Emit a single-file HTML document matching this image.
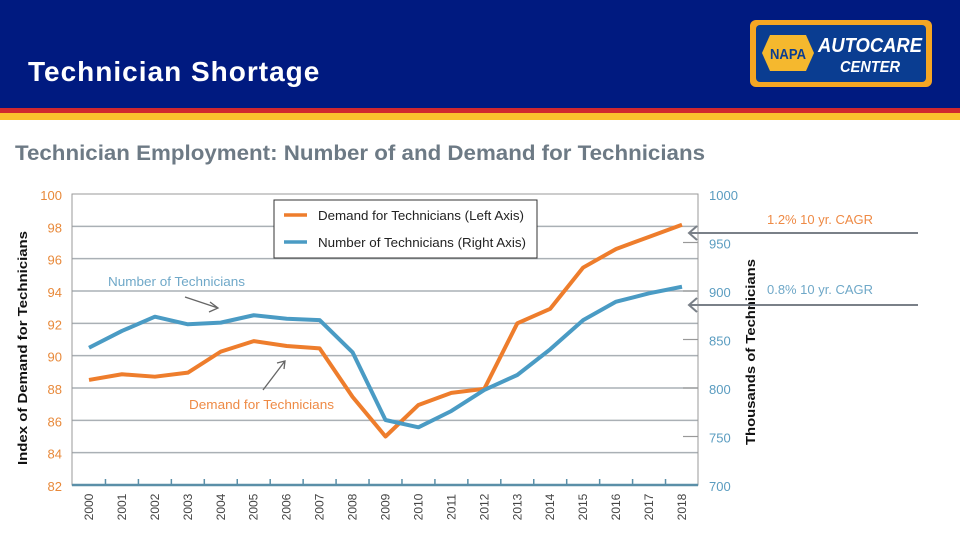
<!DOCTYPE html>
<html><head><meta charset="utf-8"><style>
html,body{margin:0;padding:0;width:960px;height:540px;overflow:hidden;background:#fff;font-family:"Liberation Sans",sans-serif}
</style></head><body>
<svg width="960" height="540" viewBox="0 0 960 540" xmlns="http://www.w3.org/2000/svg" font-family="Liberation Sans, sans-serif">
<rect x="0" y="0" width="960" height="108" fill="#001a80"/>
<rect x="0" y="108" width="960" height="5" fill="#d0282e"/>
<rect x="0" y="113" width="960" height="7" fill="#fbc02d"/>
<text x="28" y="81" fill="#fff" font-size="28" font-weight="bold" letter-spacing="1">Technician Shortage</text>
<g>
<rect x="750" y="20" width="182" height="67" rx="6" fill="#f5a623"/>
<rect x="756" y="25" width="170" height="57" rx="4" fill="#0a3d91"/>
<polygon points="770,35 806,35 814,53 806,71 770,71 762,53" fill="#f5b82e"/>
<text x="788" y="59" fill="#0a3d91" font-size="15" font-weight="bold" text-anchor="middle" textLength="36" lengthAdjust="spacingAndGlyphs">NAPA</text>
<text x="870" y="52" fill="#fff" font-size="20" font-weight="bold" font-style="italic" text-anchor="middle" textLength="104" lengthAdjust="spacingAndGlyphs">AUTOCARE</text>
<text x="870" y="72" fill="#fff" font-size="16" font-weight="bold" font-style="italic" text-anchor="middle" textLength="60" lengthAdjust="spacingAndGlyphs">CENTER</text>
</g>
<text x="15" y="160" fill="#6d7a85" font-size="21" font-weight="bold" textLength="690" lengthAdjust="spacingAndGlyphs">Technician Employment: Number of and Demand for Technicians</text>
<g id="chart"></g>
</svg>
<script>
const years = ['2000','2001','2002','2003','2004','2005','2006','2007','2008','2009','2010','2011','2012','2013','2014','2015','2016','2017','2018'];
const demand = [88.5,88.85,88.7,88.95,90.25,90.9,90.6,90.45,87.45,85.0,86.95,87.7,87.95,92.0,92.9,95.45,96.6,97.35,98.1];
const techs = [841.5,858.8,873.5,865.7,867.4,875,871.4,870,836.8,767,759.5,776.3,798,813.4,839.9,870,889,897.6,904.4];
const leftTicks = [82,84,86,88,90,92,94,96,98,100];
const rightTicks = [700,750,800,850,900,950,1000];

const NS='http://www.w3.org/2000/svg';
const g=document.getElementById('chart');
const L=72,R=698,T=194,B=485;
const x0=89,x1=682;
const xs=i=>x0+(x1-x0)*i/(years.length-1);
const yl=v=>B-(v-82)/(100-82)*(B-T);
const yr=v=>B-(v-700)/(1000-700)*(B-T);
function mk(tag,attrs,parent){const e=document.createElementNS(NS,tag);for(const k in attrs)e.setAttribute(k,attrs[k]);(parent||g).appendChild(e);return e;}

leftTicks.forEach(v=>{
  if(v>82&&v<100){const l=mk('line',{x1:L,x2:R,y1:yl(v),y2:yl(v),stroke:'#aab0b5','stroke-width':1.5});
  
  }
  const t=mk('text',{x:62,y:yl(v)+6,'font-size':13,fill:'#e8893a','text-anchor':'end'});t.textContent=v;
  
  
});
rightTicks.forEach(v=>{
  if(v>700&&v<1000){const l=mk('line',{x1:683,x2:R,y1:yr(v),y2:yr(v),stroke:'#999','stroke-width':1.2});
  
  }
  const t=mk('text',{x:709,y:yr(v)+6,'font-size':13,fill:'#5a9cc0'});t.textContent=v;
  
  
});
const frame=mk('rect',{x:L,y:T,width:R-L,height:B-T,fill:'none',stroke:'#999','stroke-width':1});


const xa=mk('line',{x1:L,x2:R,y1:B,y2:B,stroke:'#5a8fa8','stroke-width':2.5});


years.forEach((y,i)=>{
  if(i>0){const tk=mk('line',{x1:(xs(i)+xs(i-1))/2,x2:(xs(i)+xs(i-1))/2,y1:B,y2:B-6,stroke:'#5a8fa8','stroke-width':1.5});
  
  }
  const t=mk('text',{x:0,y:0,'font-size':12,fill:'#444','text-anchor':'middle',transform:`translate(${xs(i)+4},${B+22}) rotate(-90)`});t.textContent=y;
  
  
});
const pd=mk('polyline',{points:demand.map((v,i)=>xs(i)+','+yl(v)).join(' '),fill:'none',stroke:'#ee7d2c','stroke-width':4,'stroke-linejoin':'round'});


const pt=mk('polyline',{points:techs.map((v,i)=>xs(i)+','+yr(v)).join(' '),fill:'none',stroke:'#4a9bc4','stroke-width':4,'stroke-linejoin':'round'});


</script>
<svg width="960" height="540" style="position:absolute;left:0;top:0" font-family="Liberation Sans, sans-serif">
<g>
<rect x="274" y="200" width="263" height="58" fill="#fff" stroke="#333" stroke-width="1"/>
<line x1="284" y1="215" x2="307" y2="215" stroke="#ee7d2c" stroke-width="3.5"/>
<text x="318" y="220" font-size="12.5" fill="#222" textLength="206" lengthAdjust="spacingAndGlyphs">Demand for Technicians (Left Axis)</text>
<line x1="284" y1="242" x2="307" y2="242" stroke="#4a9bc4" stroke-width="3.5"/>
<text x="318" y="247" font-size="12.5" fill="#222" textLength="208" lengthAdjust="spacingAndGlyphs">Number of Technicians (Right Axis)</text>
</g>
<text x="108" y="286" font-size="13" fill="#6fa8c8" textLength="137" lengthAdjust="spacingAndGlyphs">Number of Technicians</text>
<path d="M185,297 L218,308 M210,302 L218,308 L209,312" stroke="#666" stroke-width="1.3" fill="none"/>
<text x="189" y="409" font-size="13" fill="#ee8a45" textLength="145" lengthAdjust="spacingAndGlyphs">Demand for Technicians</text>
<path d="M263,390 L285,361 M277,363 L285,361 L284,369" stroke="#666" stroke-width="1.3" fill="none"/>
<text x="0" y="0" font-size="13" font-weight="bold" fill="#111" text-anchor="middle" transform="translate(27,348) rotate(-90)" textLength="234" lengthAdjust="spacingAndGlyphs">Index of Demand for Technicians</text>
<text x="0" y="0" font-size="13" font-weight="bold" fill="#111" text-anchor="middle" transform="translate(755,352) rotate(-90)" textLength="186" lengthAdjust="spacingAndGlyphs">Thousands of Technicians</text>
<text x="767" y="224" font-size="13" fill="#ee8a45" textLength="106" lengthAdjust="spacingAndGlyphs">1.2% 10 yr. CAGR</text>
<path d="M689,233 L918,233 M697,226 L689,233 L697,240" stroke="#7a8088" stroke-width="2" fill="none"/>
<text x="767" y="294" font-size="13" fill="#6fa8c8" textLength="106" lengthAdjust="spacingAndGlyphs">0.8% 10 yr. CAGR</text>
<path d="M689,305 L918,305 M697,298 L689,305 L697,312" stroke="#7a8088" stroke-width="2" fill="none"/>
</svg>
</body></html>
